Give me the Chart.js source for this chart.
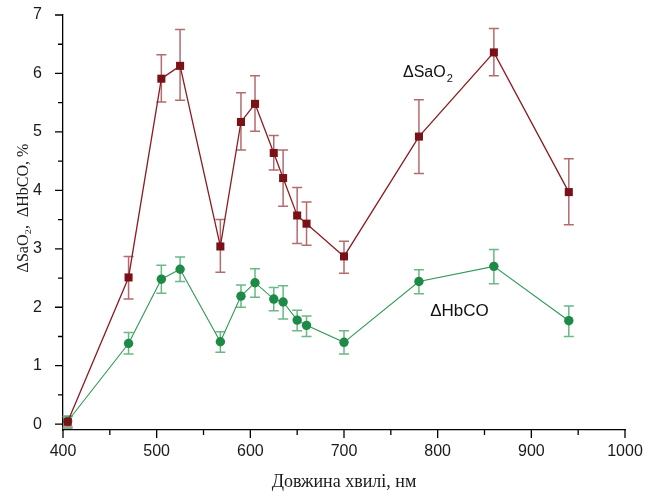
<!DOCTYPE html>
<html>
<head>
<meta charset="utf-8">
<script src="https://cdn.jsdelivr.net/npm/chart.js@4.4.1/dist/chart.umd.min.js"></script>
<style>
  html, body { margin: 0; padding: 0; background: #fff; }
  canvas { display: block; }
</style>
</head>
<body>
<canvas id="chart" width="645" height="493"></canvas>
<script>
// ---- data ----
const wavelengths = [405, 470, 505, 525, 568, 590, 605, 625, 635, 650, 660, 700, 780, 860, 940];

const sao2   = [0.04, 2.51, 5.91, 6.13, 3.04, 5.17, 5.48, 4.64, 4.21, 3.57, 3.43, 2.87, 4.92, 6.36, 3.97];
const sao2Hi = [0.13, 2.87, 6.32, 6.75, 3.50, 5.67, 5.96, 4.94, 4.69, 4.05, 3.80, 3.13, 5.55, 6.77, 4.54];
const sao2Lo = [-0.05, 2.14, 5.51, 5.54, 2.60, 4.69, 5.01, 4.35, 3.73, 3.09, 3.06, 2.58, 4.29, 5.96, 3.41];

const hbco   = [0.05, 1.38, 2.48, 2.65, 1.41, 2.19, 2.42, 2.14, 2.09, 1.78, 1.69, 1.40, 2.44, 2.70, 1.77];
const hbcoHi = [0.14, 1.57, 2.72, 2.86, 1.58, 2.38, 2.66, 2.34, 2.37, 1.95, 1.85, 1.60, 2.64, 2.99, 2.02];
const hbcoLo = [-0.07, 1.20, 2.24, 2.44, 1.23, 2.00, 2.17, 1.94, 1.80, 1.60, 1.50, 1.20, 2.23, 2.40, 1.50];

const xTicks = [400, 500, 600, 700, 800, 900, 1000];
const yTicks = [0, 1, 2, 3, 4, 5, 6, 7];

const RED = '#7a1116', RED_LINE = '#8b1c22', RED_ERR = '#b56a6e';
const GREEN = '#1d8a45', GREEN_LINE = '#2f9a57', GREEN_ERR = '#68b985';
const SERIF = '"Liberation Serif", "Times New Roman", serif';
const SANS = '"Liberation Sans", Arial, sans-serif';

function pts(ys) {
  return wavelengths.map(function(x, i) { return { x: x, y: ys[i] }; });
}

// error bars, drawn under the markers
const errorBars = {
  id: 'errorBars',
  beforeDatasetsDraw(chart) {
    const ctx = chart.ctx, xs = chart.scales.x, ys = chart.scales.y;
    chart.data.datasets.forEach(function(ds) {
      ctx.save();
      ctx.strokeStyle = ds.errColor;
      ctx.lineWidth = 1.5;
      wavelengths.forEach(function(w, i) {
        const px = xs.getPixelForValue(w);
        const top = ys.getPixelForValue(ds.errHi[i]);
        const bot = ys.getPixelForValue(ds.errLo[i]);
        ctx.beginPath();
        ctx.moveTo(px, top); ctx.lineTo(px, bot);
        ctx.moveTo(px - 5, top); ctx.lineTo(px + 5, top);
        ctx.moveTo(px - 5, bot); ctx.lineTo(px + 5, bot);
        ctx.stroke();
      });
      ctx.restore();
    });
  }
};

// outward major + minor tick marks
const tickMarks = {
  id: 'tickMarks',
  afterDraw(chart) {
    const ctx = chart.ctx, xs = chart.scales.x, ys = chart.scales.y, a = chart.chartArea;
    ctx.save();
    ctx.strokeStyle = '#000';
    ctx.lineWidth = 1.3;
    ctx.beginPath();
    xTicks.forEach(function(v, i) {
      const px = xs.getPixelForValue(v);
      ctx.moveTo(px, a.bottom); ctx.lineTo(px, a.bottom + 8);
      if (i < xTicks.length - 1) {
        const mx = xs.getPixelForValue((v + xTicks[i + 1]) / 2);
        ctx.moveTo(mx, a.bottom); ctx.lineTo(mx, a.bottom + 5);
      }
    });
    yTicks.forEach(function(v, i) {
      const py = ys.getPixelForValue(v);
      ctx.moveTo(a.left, py); ctx.lineTo(a.left - 8, py);
      if (i < yTicks.length - 1) {
        const my = ys.getPixelForValue((v + yTicks[i + 1]) / 2);
        ctx.moveTo(a.left, my); ctx.lineTo(a.left - 5, my);
      }
    });
    ctx.stroke();
    ctx.restore();
  }
};

// in-plot series labels + rotated y title
const textLabels = {
  id: 'textLabels',
  afterDraw(chart) {
    const ctx = chart.ctx, xs = chart.scales.x, ys = chart.scales.y;
    ctx.save();
    ctx.fillStyle = '#111';
    ctx.textBaseline = 'alphabetic';
    ctx.textAlign = 'left';
    // ΔSaO2
    let x = xs.getPixelForValue(763), y = ys.getPixelForValue(5.94);
    ctx.font = '16px ' + SANS;
    ctx.fillText('ΔSaO', x, y);
    const w = ctx.measureText('ΔSaO').width;
    ctx.font = '11px ' + SANS;
    ctx.fillText('2', x + w + 1, y + 5);
    // ΔHbCO
    x = xs.getPixelForValue(792); y = ys.getPixelForValue(1.85);
    ctx.font = '17px ' + SANS;
    ctx.fillText('ΔHbCO', x, y);
    ctx.restore();

    // y axis title
    ctx.save();
    ctx.translate(28, 208);
    ctx.rotate(-Math.PI / 2);
    ctx.fillStyle = '#1a1a1a';
    ctx.textAlign = 'center';
    ctx.textBaseline = 'alphabetic';
    ctx.font = '16px ' + SERIF;
    ctx.fillText('ΔSaO₂,  ΔHbCO, %', 0, 0);
    ctx.restore();
  }
};

const tickFont = { family: SANS, size: 16 };

new Chart(document.getElementById('chart'), {
  type: 'line',
  data: {
    datasets: [
      {
        label: 'ΔSaO2',
        data: pts(sao2),
        errHi: sao2Hi, errLo: sao2Lo, errColor: RED_ERR,
        borderColor: RED_LINE,
        borderWidth: 1.3,
        backgroundColor: RED,
        pointBackgroundColor: RED,
        pointBorderColor: RED,
        pointBorderWidth: 0,
        pointStyle: 'rect',
        pointRadius: 5.7,
        tension: 0
      },
      {
        label: 'ΔHbCO',
        data: pts(hbco),
        errHi: hbcoHi, errLo: hbcoLo, errColor: GREEN_ERR,
        borderColor: GREEN_LINE,
        borderWidth: 1.1,
        backgroundColor: GREEN,
        pointBackgroundColor: GREEN,
        pointBorderColor: GREEN,
        pointBorderWidth: 0,
        pointStyle: 'circle',
        pointRadius: 4.7,
        tension: 0
      }
    ]
  },
  options: {
    responsive: false,
    animation: false,
    devicePixelRatio: 1,
    layout: { padding: { top: 15, right: 20, left: 0, bottom: 0 } },
    plugins: { legend: { display: false }, tooltip: { enabled: false } },
    scales: {
      x: {
        type: 'linear',
        min: 400, max: 1000,
        afterBuildTicks: function(s) { s.ticks = xTicks.map(function(v) { return { value: v }; }); },
        afterFit: function(s) { s.height = 63; s.paddingLeft = 0; s.paddingRight = 0; },
        grid: { display: false },
        border: { display: true, color: '#000', width: 1.3 },
        ticks: { font: tickFont, color: '#1a1a1a', padding: 4, maxRotation: 0, autoSkip: false,
                 callback: function(v) { return String(v); } },
        title: {
          display: true,
          text: 'Довжина хвилі, нм',
          font: { family: SERIF, size: 18 },
          color: '#1a1a1a',
          padding: { top: 0, bottom: 0 }
        }
      },
      y: {
        type: 'linear',
        min: -0.1, max: 7,
        afterBuildTicks: function(s) { s.ticks = yTicks.map(function(v) { return { value: v }; }); },
        afterFit: function(s) { s.width = 63; s.paddingTop = 0; s.paddingBottom = 0; },
        grid: { display: false },
        border: { display: true, color: '#000', width: 1.3 },
        ticks: { font: tickFont, color: '#1a1a1a', padding: 13, autoSkip: false,
                 callback: function(v) { return String(v); } },
        title: { display: false }
      }
    }
  },
  plugins: [errorBars, tickMarks, textLabels]
});
</script>
</body>
</html>
